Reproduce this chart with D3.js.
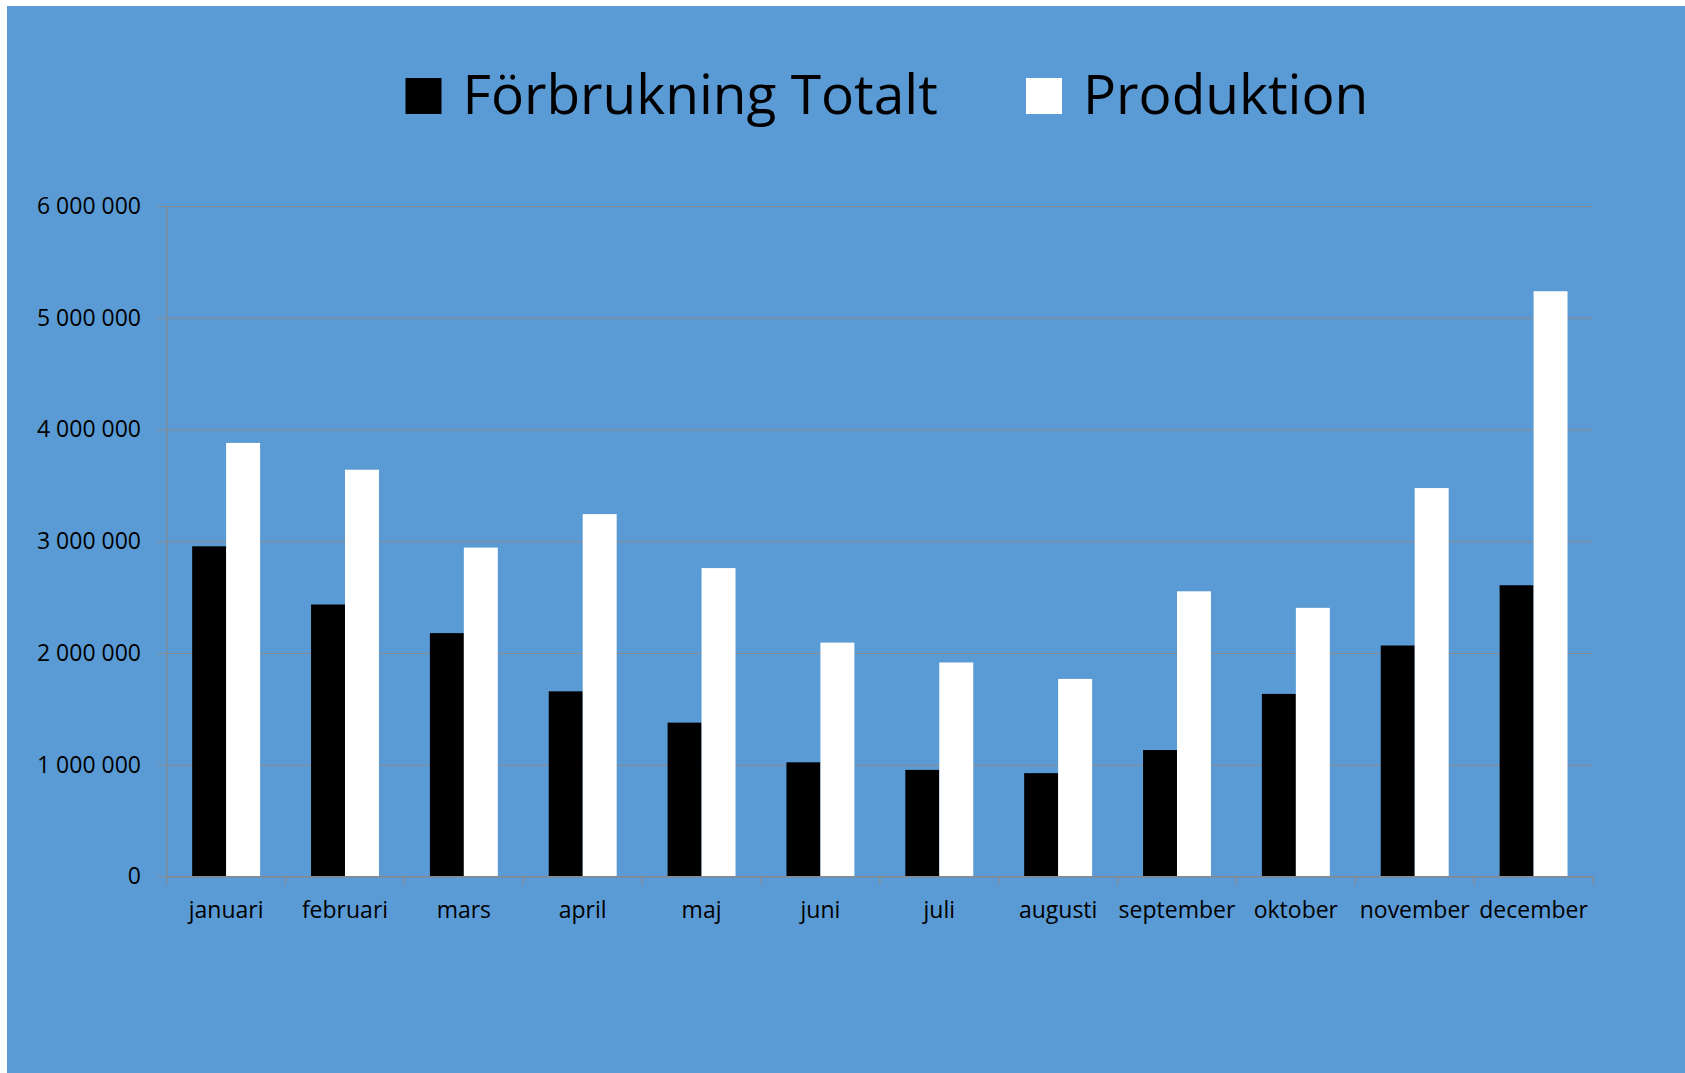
<!doctype html>
<html>
  <head>
    <meta charset="utf-8">
    <title>Förbrukning och produktion per månad</title>
    <script src="https://cdnjs.cloudflare.com/ajax/libs/d3/7.8.5/d3.min.js"></script>
    <style>
      body { margin: 0; background: #fff; }
      svg { display: block; }
      text { font-family: "Open Sans", "Noto Sans", sans-serif; fill: #000; }
    </style>
  </head>
  <body>
    <svg id="chart" width="1685" height="1073"></svg>
    <script>
      // month labels and the two series
      var months = ["januari", "februari", "mars", "april", "maj", "juni",
                    "juli", "augusti", "september", "oktober", "november", "december"];
      var seriesNames = ["Förbrukning Totalt", "Produktion"];
      var forbrukning = [2955000, 2434000, 2178000, 1657000, 1377000, 1022000,
                         954000, 925000, 1132000, 1634000, 2067000, 2606000];
      var produktion = [3880000, 3640000, 2943000, 3243000, 2760000, 2093000,
                        1915000, 1768000, 2552000, 2404000, 3476000, 5237000];
      var yTicks = [0, 1000000, 2000000, 3000000, 4000000, 5000000, 6000000];
      var seriesColors = ["#000000", "#ffffff"];

      var width = 1685, height = 1073;
      var svg = d3.select("#chart");

      // chart area background
      svg.append("rect")
        .attr("x", 7).attr("y", 6)
        .attr("width", width - 7).attr("height", height - 6)
        .attr("fill", "#5b9bd5");

      // plot area (window.top is reserved, so use plot* names)
      var plotLeft = 166.7, plotRight = 1593, plotTop = 206, plotBottom = 876.5;

      var x = d3.scaleBand().domain(months).range([plotLeft, plotRight]).padding(0);
      var x1 = d3.scaleBand().domain(seriesNames)
        .range([0, x.bandwidth()]).paddingInner(0).paddingOuter(0.75);
      var y = d3.scaleLinear().domain([0, 6000000]).range([plotBottom, plotTop]);

      var fmt = function(d) { return d3.format(",")(d).replace(/,/g, " "); };

      // gridlines + y labels
      var yAxis = svg.append("g")
        .attr("transform", "translate(158,0)")
        .call(d3.axisLeft(y).tickValues(yTicks).tickFormat(fmt)
          .tickSize(-(plotRight - 158)).tickPadding(17));
      yAxis.select(".domain").remove();
      yAxis.selectAll(".tick line").attr("stroke", "#898989").attr("stroke-width", 1.2);
      yAxis.selectAll(".tick text")
        .style("font-size", "23px").attr("fill", "#000");

      // vertical axis line
      svg.append("line")
        .attr("x1", plotLeft).attr("x2", plotLeft)
        .attr("y1", plotTop).attr("y2", plotBottom)
        .attr("stroke", "#898989").attr("stroke-width", 1.2);

      var data = months.map(function(m, i) {
        return { month: m, values: [forbrukning[i], produktion[i]] };
      });

      var groups = svg.append("g").selectAll("g")
        .data(data)
        .join("g")
        .attr("transform", function(d) { return "translate(" + x(d.month) + ",0)"; });

      groups.selectAll("rect")
        .data(function(d) { return d.values.map(function(v, j) { return { name: seriesNames[j], value: v, j: j }; }); })
        .join("rect")
        .attr("x", function(d) { return x1(d.name); })
        .attr("width", x1.bandwidth())
        .attr("y", function(d) { return y(d.value); })
        .attr("height", function(d) { return plotBottom - y(d.value); })
        .attr("fill", function(d) { return seriesColors[d.j]; });

      // x axis baseline and ticks between categories
      svg.append("line")
        .attr("x1", plotLeft).attr("x2", plotRight)
        .attr("y1", plotBottom).attr("y2", plotBottom)
        .attr("stroke", "#898989").attr("stroke-width", 1.2);

      var boundaries = months.map(function(m) { return x(m); }).concat([x(months[months.length - 1]) + x.bandwidth()]);
      svg.append("g").selectAll("line")
        .data(boundaries)
        .join("line")
        .attr("x1", function(d) { return d; }).attr("x2", function(d) { return d; })
        .attr("y1", plotBottom).attr("y2", plotBottom + 8)
        .attr("stroke", "#898989").attr("stroke-width", 1.2);

      svg.append("g").selectAll("text")
        .data(months)
        .join("text")
        .attr("x", function(d) { return x(d) + x.bandwidth() / 2; })
        .attr("y", 918)
        .attr("text-anchor", "middle")
        .style("font-size", "23px")
        .text(function(d) { return d; });

      // legend
      var legendItems = [
        { name: seriesNames[0], color: seriesColors[0], x: 405.5 },
        { name: seriesNames[1], color: seriesColors[1], x: 1026 }
      ];
      var legend = svg.append("g").selectAll("g")
        .data(legendItems)
        .join("g")
        .attr("transform", function(d) { return "translate(" + d.x + ",0)"; });
      legend.append("rect")
        .attr("x", 0).attr("y", 78)
        .attr("width", 36).attr("height", 36)
        .attr("fill", function(d) { return d.color; });
      legend.append("text")
        .attr("x", 57).attr("y", 113.5)
        .style("font-size", "55px")
        .text(function(d) { return d.name; });
    </script>
  </body>
</html>
